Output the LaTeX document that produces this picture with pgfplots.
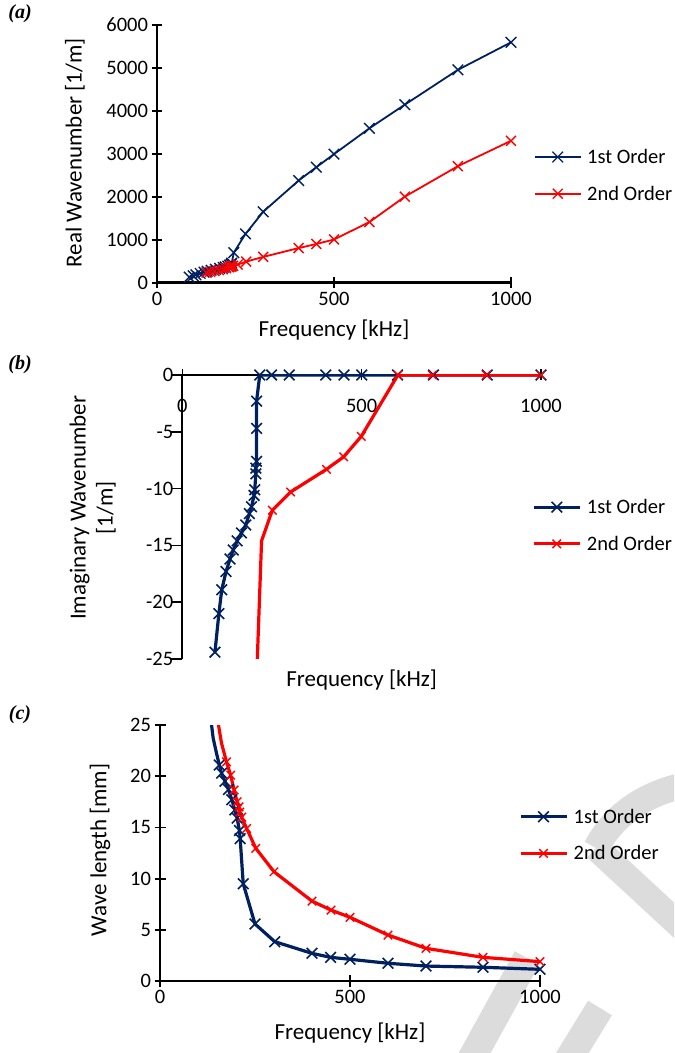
\documentclass[border=0pt]{standalone}
\usepackage{fontspec}
\setmainfont{Carlito}
\newfontfamily\panelfont{Liberation Serif}
\usepackage{pgfplots}
\pgfplotsset{compat=1.18}
\definecolor{navy}{HTML}{002060}
\definecolor{wmgray}{HTML}{DCDCDC}

\pgfplotsset{
  chart/.style={
    scale only axis,
    anchor=south west,
    /pgf/number format/assume math mode=true,
    /pgf/number format/set thousands separator={},
    scaled ticks=false,
    tick label style={font=\fontsize{20.5}{24}\selectfont},
    label style={font=\fontsize{23}{27}\selectfont},
    legend style={draw=none, fill=none, inner sep=0pt, row sep=17pt, column sep=3.5pt,
      font=\fontsize{20.5}{24}\selectfont},
    legend cell align=left,
    legend image code/.code={\draw[##1, mark indices={2}]
      plot coordinates {(0pt,0pt)(23pt,0pt)(46pt,0pt)};},
    axis line style={line width=2.4pt},
    major tick style={line width=1.8pt, black},
    major tick length=11pt,
    tick align=center,
  },
}

\begin{document}
\begin{tikzpicture}
\path (0,0) rectangle (674pt,1053pt);

% light watermark strokes
\begin{scope}
  \clip (0,0) rectangle (674pt,1053pt);
  \begin{scope}[shift={(0,1053pt)}, yscale=-1, x=1pt, y=1pt]
    \draw[wmgray, line width=26pt] (685,785) .. controls (640,795) and (612,818) .. (596,848);
    \draw[wmgray, line width=26pt] (596,848) -- (690,935);
    \draw[wmgray, line width=28pt] (527,958) -- (468,1065);
    \draw[wmgray, line width=28pt] (600,1008) -- (565,1065);
  \end{scope}
\end{scope}

\node[font=\panelfont\bfseries\itshape\fontsize{20}{24}\selectfont] at (20pt,1039pt) {(a)};
\node[font=\panelfont\bfseries\itshape\fontsize{20}{24}\selectfont] at (20pt,688pt) {(b)};
\node[font=\panelfont\bfseries\itshape\fontsize{20}{24}\selectfont] at (20pt,338pt) {(c)};

% (a) real wavenumber
\begin{axis}[chart,
  at={(157pt,770.3pt)}, width=354pt, height=258pt,
  axis lines*=left,
  xmin=0, xmax=1000, ymin=0, ymax=6000,
  xtick={0,500,1000}, ytick={0,1000,...,6000},
  xlabel={Frequency [kHz]}, ylabel={Real Wavenumber [1/m]},
  xlabel style={at={(axis description cs:0.5,-0.183)}, anchor=center},
  ylabel style={at={(axis description cs:-0.232,0.503)}, anchor=center},
  legend style={at={(axis description cs:1.064,0.416)}, anchor=west},
]
\addplot[navy, line width=1.8pt, mark=x, mark size=7.5pt, mark options={line width=1.4pt}] coordinates {
  (91,130)(102,160)(110,185)(122,215)(133,245)(142,265)(153,290)(165,312)
  (177,333)(187,355)(193,368)(200,385)(205,405)(209,430)(211,455)(217,700)
  (250,1135)(300,1650)(400,2375)(450,2685)(500,2990)(600,3590)(700,4140)
  (850,4950)(1000,5590)
};
\addplot[red, line width=1.8pt, mark=x, mark size=7pt, mark options={line width=1.4pt}] coordinates {
  (140,235)(150,252)(162,271)(175,294)(186,313)(195,337)(203,359)(208,370)
  (211,381)(215,393)(228,422)(252,490)(300,600)(400,805)(450,900)(500,1005)
  (600,1410)(700,2000)(850,2710)(1000,3300)
};
\legend{1st Order, 2nd Order}
\end{axis}

% (b) imaginary wavenumber
\begin{axis}[chart,
  at={(182.3pt,394pt)}, width=358.7pt, height=284pt,
  axis x line*=middle, axis y line*=left,
  hide obscured x ticks=false,
  axis line style={line width=1.8pt},
  major tick style={line width=1.5pt, black},
  y tick style={/pgfplots/tick align=outside},
  xmin=0, xmax=1000, ymin=-25, ymax=0,
  xtick={0,500,1000}, ytick={-25,-20,...,0},
  xticklabel style={yshift=-15pt},
  xlabel={Frequency [kHz]}, ylabel={Imaginary Wavenumber\\{}[1/m]},
  xlabel style={at={(axis description cs:0.5,-0.074)}, anchor=center},
  ylabel style={at={(axis description cs:-0.25,0.532)}, anchor=center, align=center},
  legend style={at={(axis description cs:0.975,0.470)}, anchor=west},
]
\addplot[navy, line width=3.2pt, mark=x, mark size=7.5pt, mark options={line width=1.6pt}] coordinates {
  (91,-24.4)(102,-21.0)(110,-18.9)(122,-17.3)(133,-16.2)(142,-15.4)(153,-14.6)
  (165,-13.9)(177,-13.2)(187,-12.2)(193,-11.6)(200,-10.6)(202,-10.1)(205,-8.7)
  (205,-8.2)(207,-7.6)(207,-4.7)(207,-2.3)(216,0)(249,0)(298,0)(400,0)(451,0)
  (500,0)(600,0)(700,0)(850,0)(1000,0)
};
\addplot[red, line width=3.2pt, mark=x, mark size=6pt, mark options={line width=1.4pt},
  mark indices={2,3,4,5,6,7,8,9,10,11}] coordinates {
  (200,-33)(221,-14.6)(251,-11.9)(302,-10.3)(402,-8.3)(450,-7.2)(499,-5.4)
  (601,0)(697,0)(848,0)(1000,0)
};
\legend{1st Order, 2nd Order}
\end{axis}

% (c) wave length
\begin{axis}[chart,
  at={(160pt,72pt)}, width=380pt, height=256pt,
  axis lines*=left,
  axis line style={line width=2.6pt},
  xmin=0, xmax=1000, ymin=0, ymax=25,
  xtick={0,500,1000}, ytick={0,5,...,25},
  xlabel={Frequency [kHz]}, ylabel={Wave length [mm]},
  xlabel style={at={(axis description cs:0.5,-0.203)}, anchor=center},
  ylabel style={at={(axis description cs:-0.158,0.512)}, anchor=center},
  legend style={at={(axis description cs:0.944,0.570)}, anchor=west},
]
\addplot[navy, line width=3.2pt, mark=x, mark size=7.5pt, mark options={line width=1.6pt},
  mark indices={3,4,5,6,7,8,9,10,11,12,13,14,15,16,17,18,19,20,21,22,23}] coordinates {
  (122,29.5)(133,25.8)(140,23.7)(149,22.2)(156,21.1)(162,20.3)(171,19.5)
  (180,18.7)(189,17.7)(197,16.7)(203,15.9)(209,14.7)(211,13.9)(219,9.5)
  (250,5.57)(302,3.84)(400,2.7)(449,2.31)(500,2.12)(600,1.73)(700,1.46)
  (850,1.34)(1000,1.14)
};
\addplot[red, line width=3.2pt, mark=x, mark size=6pt, mark options={line width=1.4pt},
  mark indices={2,3,4,5,6,7,8,9,10,11,12,13,14,15,16,17,18,19}] coordinates {
  (145,27)(162,23.2)(175,21.4)(186,20.1)(195,18.65)(203,17.5)(208,17.0)
  (210,16.5)(215,16.0)(228,14.9)(252,12.96)(300,10.67)(400,7.8)(450,6.93)
  (500,6.22)(600,4.49)(700,3.19)(850,2.31)(1000,1.89)
};
\legend{1st Order, 2nd Order}
\end{axis}
\end{tikzpicture}
\end{document}
